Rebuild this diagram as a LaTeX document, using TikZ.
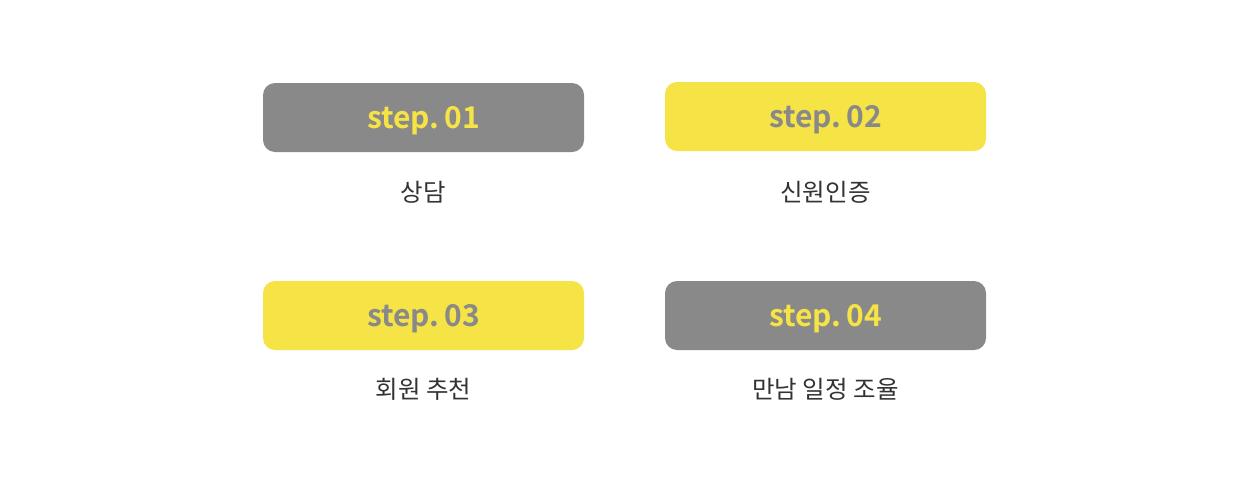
\documentclass[tikz,border=0pt]{standalone}
\usepackage{fontspec}
\newfontfamily\krfont{Noto Sans CJK KR}
\newfontfamily\krbold{Noto Sans CJK KR Bold}
\definecolor{boxgray}{HTML}{898989}
\definecolor{boxyellow}{HTML}{F6E345}
\definecolor{labeltext}{HTML}{333333}
\begin{document}
\begin{tikzpicture}[x=1pt,y=-1pt,
  stepbox/.style={rounded corners=12pt, minimum width=321pt, minimum height=69pt, inner sep=0pt, draw=none, text height=22pt, text depth=0pt},
  graybox/.style={stepbox, fill=boxgray, text=boxyellow},
  yellowbox/.style={stepbox, fill=boxyellow, text=boxgray},
  steptext/.style={font=\krbold\fontsize{30}{32}\selectfont},
  steplabel/.style={font=\krfont\fontsize{24.5}{28}\selectfont, text=labeltext, inner sep=0pt}]
\useasboundingbox (0,0) rectangle (1239,499);
\node[graybox, steptext] (s1) at (423.5,117.5) {step.\hspace{5pt}01};
\node[yellowbox, steptext] (s2) at (825.5,116.5) {step.\hspace{5pt}02};
\node[yellowbox, steptext] (s3) at (423.5,315.5) {step.\hspace{5pt}03};
\node[graybox, steptext] (s4) at (825.5,315.5) {step.\hspace{5pt}04};
\node[steplabel] (l1) at (423.5,192) {상담};
\node[steplabel] (l2) at (825.5,192) {신원인증};
\node[steplabel] (l3) at (423.5,389) {회원 추천};
\node[steplabel] (l4) at (825.5,389) {만남 일정 조율};
\end{tikzpicture}
\end{document}
